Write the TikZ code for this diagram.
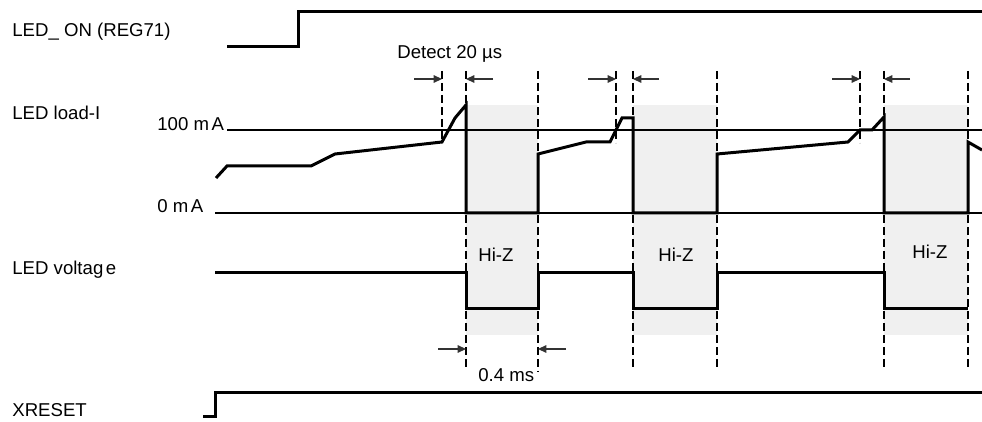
\documentclass[tikz,border=0pt]{standalone}
\usepackage{fontspec}
\setmainfont{Liberation Sans}
\usetikzlibrary{arrows.meta}
\definecolor{hizfill}{HTML}{F0F0F0}
\definecolor{arrcol}{HTML}{333333}
\begin{document}
\begin{tikzpicture}[x=0.5pt,y=-0.5pt,
  sig/.style={line width=1.5pt, line join=miter},
  refline/.style={line width=0.6pt},
  guide/.style={line width=0.65pt, dash pattern=on 4pt off 2pt},
  meas/.style={line width=0.6pt, draw=arrcol, -{Triangle[length=4.2pt,width=3.8pt,fill=arrcol]}},
  lbl/.style={anchor=base west, inner sep=0pt, font=\fontsize{9.3}{11}\selectfont},
  hizbox/.style={fill=hizfill, draw=none}]
\useasboundingbox (0,0) rectangle (982,422);

% Hi-Z shaded regions
\fill[hizbox] (466,105) rectangle (538,335);
\fill[hizbox] (633,105) rectangle (717,335);
\fill[hizbox] (884,105) rectangle (968,335);

% labels
\node[lbl] (lon) at (12,36.5) {LED\_ ON (REG71)};
\node[lbl] (lload) at (12,120) {LED load-I};
\node[lbl] (l100) at (157,131) {100 m\kern1.3pt A};
\node[lbl] (l0) at (157,213) {0 m\kern1.3pt A};
\node[lbl] (ldet) at (397,59) {Detect 20 µs};
\node[lbl] (lvolt) at (12,275) {LED voltag\kern1.3pt e};
\node[lbl] (hz1) at (478,262) {Hi-Z};
\node[lbl] (hz2) at (658,262) {Hi-Z};
\node[lbl] (hz3) at (912,259) {Hi-Z};
\node[lbl] (l04) at (478,382) {0.4 ms};
\node[lbl] (lxr) at (12,417) {XRESET};

% reference levels
\draw[refline] (227,130) -- (982,130);
\draw[refline] (215,213) -- (982,213);

% dashed guides
\foreach \gx/\gb in {442/143, 466/368, 538/372, 616/143, 633/368, 717/368, 860/143, 884/368, 968/368}
  \draw[guide] (\gx,71) -- (\gx,\gb);

% measurement arrows
\coordinate (a1t) at (414,79); \coordinate (a1h) at (442,79);
\coordinate (a2t) at (493,79); \coordinate (a2h) at (466,79);
\coordinate (a3t) at (588,79); \coordinate (a3h) at (616,79);
\coordinate (a4t) at (659,79); \coordinate (a4h) at (633,79);
\coordinate (a5t) at (832,79); \coordinate (a5h) at (860,79);
\coordinate (a6t) at (910,79); \coordinate (a6h) at (884,79);
\coordinate (b1t) at (438,349); \coordinate (b1h) at (466,349);
\coordinate (b2t) at (566,349); \coordinate (b2h) at (538,349);
\foreach \a in {a1,a2,a3,a4,a5,a6,b1,b2}
  \draw[meas] (\a t) -- (\a h);

% LED_ON
\draw[sig] (227,47) -- (298,47) -- (298,12) -- (982,12);

% LED load current
\draw[sig] (216,178) -- (227,166) -- (311,166) -- (335,154) -- (442,142) -- (455,118) -- (466,105)
  -- (466,213) -- (538,213) -- (538,154) -- (586,142) -- (610,142) -- (622,118) -- (633,118)
  -- (633,213) -- (717,213) -- (717,154) -- (848,142) -- (860,130) -- (872,130) -- (884,117)
  -- (884,213) -- (968,213) -- (968,142) -- (982,150);

% LED voltage
\draw[sig] (215,273) -- (466,273) -- (466,309) -- (538,309) -- (538,273) -- (633,273)
  -- (633,309) -- (717,309) -- (717,273) -- (884,273) -- (884,309) -- (968,309);

% XRESET
\draw[sig] (203,417) -- (215,417) -- (215,393) -- (982,393);
\end{tikzpicture}
\end{document}
